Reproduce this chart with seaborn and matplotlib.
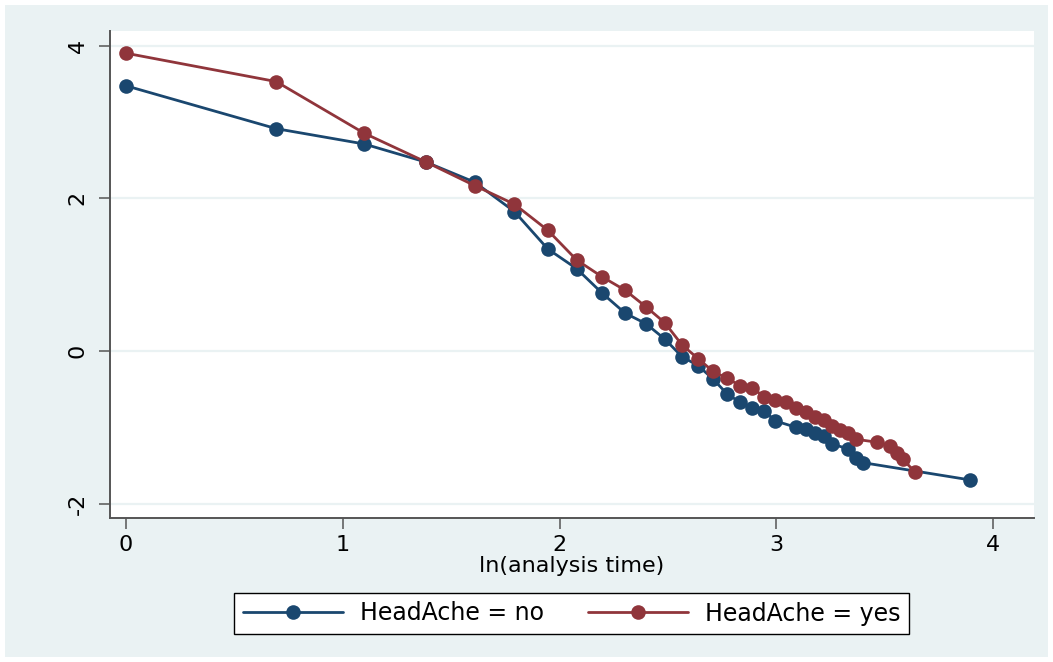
import numpy as np
import pandas as pd
import seaborn as sns
import matplotlib
matplotlib.use("Agg")
import matplotlib.pyplot as plt
from matplotlib.patches import Rectangle
from matplotlib.lines import Line2D

# ---- data ----
x_no = [0.000, 0.693, 1.099, 1.386, 1.609, 1.792, 1.946, 2.079, 2.197, 2.303,
        2.398, 2.485, 2.565, 2.639, 2.708, 2.773, 2.833, 2.890, 2.944, 2.996,
        3.091, 3.135, 3.178, 3.219, 3.258, 3.332, 3.367, 3.401, 3.892]
y_no = [3.475, 2.913, 2.712, 2.473, 2.211, 1.826, 1.336, 1.078, 0.756, 0.494,
        0.358, 0.157, -0.075, -0.193, -0.367, -0.564, -0.673, -0.747, -0.786, -0.918,
        -1.001, -1.019, -1.072, -1.115, -1.220, -1.285, -1.407, -1.465, -1.690]

x_yes = [0.000, 0.693, 1.099, 1.386, 1.609, 1.792, 1.946, 2.079, 2.197, 2.303,
         2.398, 2.485, 2.565, 2.639, 2.708, 2.773, 2.833, 2.890, 2.944, 2.996,
         3.045, 3.091, 3.135, 3.178, 3.219, 3.258, 3.296, 3.332, 3.367, 3.466,
         3.526, 3.555, 3.584, 3.638]
y_yes = [3.902, 3.530, 2.853, 2.473, 2.166, 1.923, 1.581, 1.192, 0.970, 0.795,
         0.580, 0.371, 0.079, -0.100, -0.268, -0.358, -0.455, -0.489, -0.599, -0.642,
         -0.664, -0.743, -0.796, -0.861, -0.904, -0.983, -1.035, -1.079, -1.158, -1.197,
         -1.245, -1.333, -1.420, -1.582]

labels = ["HeadAche = no", "HeadAche = yes"]
x_ticks = [0, 1, 2, 3, 4]
y_ticks = [-2, 0, 2, 4]
x_label = "ln(analysis time)"

df = pd.concat([
    pd.DataFrame({"x": x_no, "y": y_no, "group": labels[0]}),
    pd.DataFrame({"x": x_yes, "y": y_yes, "group": labels[1]}),
], ignore_index=True)

sns.set_theme(style="white")
plt.rcParams["font.family"] = ["DejaVu Sans"]
plt.rcParams["text.color"] = "black"
plt.rcParams["axes.labelcolor"] = "black"
FS = 16

BG = "#EAF2F3"
palette = {labels[0]: "#1a476f", labels[1]: "#90353b"}

fig = plt.figure(figsize=(10.53, 6.62), dpi=100, facecolor="white")
# light outer region with thin white border
fig.patches.append(Rectangle((5 / 1053, 5 / 662), 1 - 10 / 1053, 1 - 10 / 662,
                             transform=fig.transFigure, facecolor=BG,
                             edgecolor="none", zorder=-10))

ax = fig.add_axes([110 / 1053, 1 - 518 / 662, (1034 - 110) / 1053, (518 - 31) / 662])
ax.set_facecolor("white")

sns.lineplot(data=df, x="x", y="y", hue="group", palette=palette,
             sort=False, estimator=None, marker="o", markersize=10.5,
             markeredgewidth=0, linewidth=2.0, ax=ax, legend=False)

ax.set_xlim(-0.0738, 4.189)
ax.set_ylim(-2.19, 4.193)
ax.set_xticks(x_ticks)
ax.set_yticks(y_ticks)
ax.set_xticklabels([str(t) for t in x_ticks], fontsize=FS)
ax.set_yticklabels([str(t) for t in y_ticks], fontsize=FS, rotation=90, va="center")
ax.set_xlabel(x_label, fontsize=FS, labelpad=1, color="black")
ax.set_ylabel("")

for y in y_ticks:
    ax.axhline(y, color=BG, linewidth=1.6, zorder=0)

for s in ["top", "right"]:
    ax.spines[s].set_visible(False)
for s in ["left", "bottom"]:
    ax.spines[s].set_color("#555555")
    ax.spines[s].set_linewidth(1.4)
ax.tick_params(axis="both", which="major", length=8, width=1.1, color="#555555",
               labelcolor="black", direction="out", bottom=True, left=True)
ax.tick_params(axis="y", pad=8)
ax.tick_params(axis="x", pad=4)

handles = [Line2D([], [], color=palette[l], marker="o", markersize=10.5,
                  markeredgewidth=0, linewidth=2.0) for l in labels]
leg = fig.legend(handles, labels, loc="center",
                 bbox_to_anchor=((228 + 915) / 2 / 1053, 1 - 613.5 / 662),
                 ncol=2, fontsize=FS + 1, frameon=True, fancybox=False,
                 handlelength=4.24, handletextpad=0.72, columnspacing=1.86,
                 borderpad=0.35, edgecolor="black", facecolor="white",
                 framealpha=1)
leg.get_frame().set_linewidth(1.0)
for t in leg.get_texts():
    t.set_color("black")

fig.savefig("out.png", dpi=100, facecolor="white")
